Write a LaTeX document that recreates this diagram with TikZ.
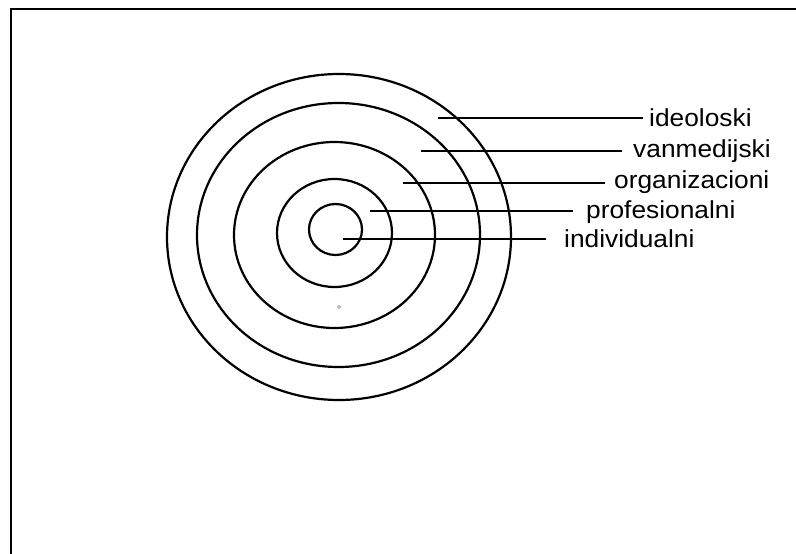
\documentclass[tikz,border=0pt]{standalone}
\usepackage{fontspec}
\newfontfamily\labelfont[FakeStretch=1.07]{Liberation Sans}
\usepackage{tikz}
\usetikzlibrary{calc}
\tikzset{
    ring/.style={draw=black, line width=2.2pt},
    leader/.style={draw=black, line width=2.2pt},
    frame line/.style={draw=black, line width=2.6pt},
    level label/.style={
        inner sep=0pt, anchor=base west,
        font=\labelfont\fontsize{24.6}{28}\selectfont
    },
}

\begin{document}
\begin{tikzpicture}[x=1pt, y=-1pt]
    \path[use as bounding box, clip] (0,0) rectangle (796,554);
    \draw[frame line] (11,570) -- (11,9) -- (810,9);

    % Rings
    \draw[ring] (339,237) ellipse (172 and 163);
    \draw[ring] (338.5,235) ellipse (141.5 and 132);
    \draw[ring] (334.5,235) ellipse (100.5 and 93);
    \draw[ring] (334.5,233) ellipse (57.5 and 54);
    \draw[ring] (335.5,229.5) ellipse (26.5 and 25.5);
    \node[circle, draw=gray, line width=0.5pt, inner sep=0pt, minimum size=3pt] (mark) at (339,307) {};

    % Leader start points
    \coordinate (ideoStart) at (438,118);
    \coordinate (vanStart) at (421,151);
    \coordinate (orgStart) at (403,183);
    \coordinate (profStart) at (370,211);
    \coordinate (indStart) at (343,239);

    % Labels
    \node[level label] (ideo) at (649,126) {ideoloski};
    \node[level label] (van) at (633,157) {vanmedijski};
    \node[level label] (org) at (614,188) {organizacioni};
    \node[level label] (prof) at (586,218) {profesionalni};
    \node[level label] (ind) at (564,247) {individualni};

    \draw[leader, shorten >=6pt] (ideoStart) -- (ideoStart -| ideo.west);
    \draw[leader, shorten >=11pt] (vanStart) -- (vanStart -| van.west);
    \draw[leader, shorten >=9pt] (orgStart) -- (orgStart -| org.west);
    \draw[leader, shorten >=13pt] (profStart) -- (profStart -| prof.west);
    \draw[leader, shorten >=18pt] (indStart) -- (indStart -| ind.west);
\end{tikzpicture}
\end{document}
